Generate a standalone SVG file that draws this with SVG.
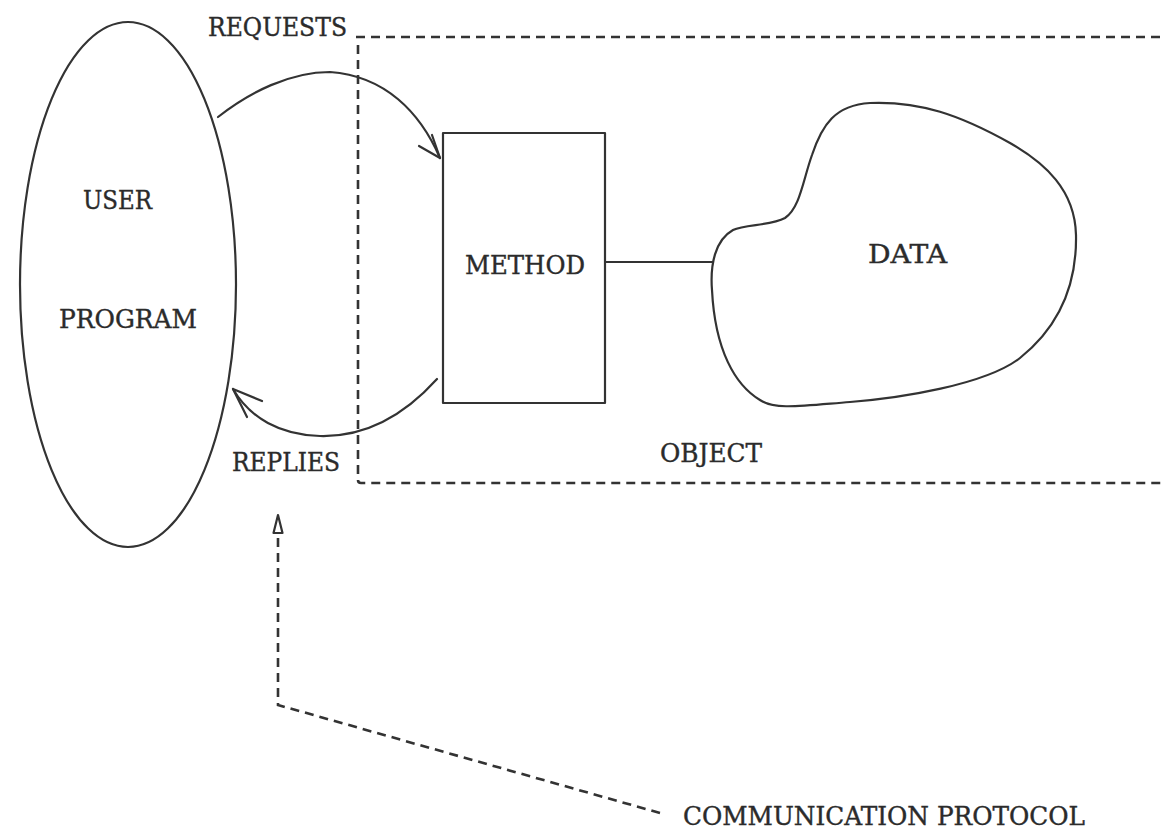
<svg xmlns="http://www.w3.org/2000/svg" width="1163" height="829" viewBox="0 0 1163 829">
<style>
.ln{fill:none;stroke:#333;stroke-width:2.2;stroke-linecap:round;stroke-linejoin:round}
.ds{fill:none;stroke:#333;stroke-width:2.6;stroke-dasharray:9 6}
.tx{font-family:"DejaVu Serif","Liberation Serif",serif;font-size:25.5px;fill:#2b2b2b;stroke:#2b2b2b;stroke-width:0.4}
</style>
<rect width="1163" height="829" fill="#fff"/>
<g id="object-boundary">
<path class="ds" d="M356,37 H1163"/>
<path class="ds" d="M358,45 V480 Q358,483 361,483 H1163"/>
<text class="tx" x="660" y="462" textLength="102" lengthAdjust="spacingAndGlyphs">OBJECT</text>
</g>
<g id="user-program">
<ellipse class="ln" cx="128" cy="284.5" rx="108" ry="262.5"/>
<text class="tx" x="83" y="209" textLength="69" lengthAdjust="spacingAndGlyphs">USER</text>
<text class="tx" x="59" y="328" textLength="138" lengthAdjust="spacingAndGlyphs">PROGRAM</text>
</g>
<g id="method">
<rect class="ln" x="443" y="133" width="162" height="270"/>
<text class="tx" x="465" y="274" textLength="120" lengthAdjust="spacingAndGlyphs">METHOD</text>
</g>
<g id="data">
<path class="ln" d="M712,290 C710,265 715,240 733,230 C745,224 770,226 785,218 C800,208 803,180 812,155 C822,125 835,105 870,103 C920,101 960,115 1010,143 C1045,163 1075,190 1076,235 C1077,290 1055,330 1020,358 C985,385 900,398 850,402 C800,406 775,410 760,400 C735,385 715,350 712,290 Z"/>
<text class="tx" x="868" y="263" textLength="79" lengthAdjust="spacingAndGlyphs">DATA</text>
</g>
<g id="connectors">
<path class="ln" d="M218,117 C250,92 290,72 330,72 C385,76 420,112 440,158"/>
<polyline class="ln" points="419,146 440,158 432,135"/>
<path class="ln" d="M605,262 H713"/>
<path class="ln" d="M437,379 C400,420 360,437 320,436 C280,435 250,418 233,389"/>
<polyline class="ln" points="262,401 233,389 247,417"/>
<polygon points="278,515 273.5,533 282.5,533" fill="#fff" stroke="#333" stroke-width="2.2" stroke-linejoin="round"/>
<path class="ds" d="M278,538 V705 L660,813"/>
</g>
<g id="labels">
<text class="tx" x="208" y="36" textLength="139" lengthAdjust="spacingAndGlyphs">REQUESTS</text>
<text class="tx" x="232" y="471" textLength="108" lengthAdjust="spacingAndGlyphs">REPLIES</text>
<text class="tx" x="683" y="825" textLength="402" lengthAdjust="spacingAndGlyphs">COMMUNICATION PROTOCOL</text>
</g>
</svg>
